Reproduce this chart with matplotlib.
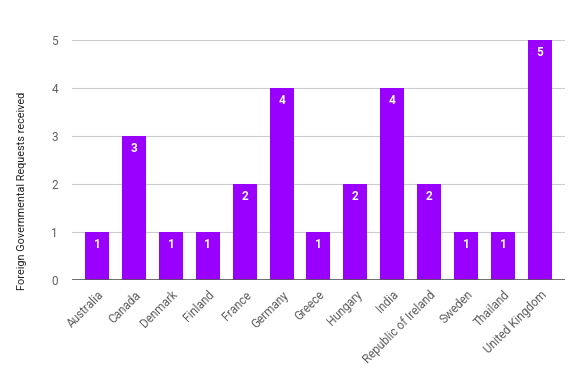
import matplotlib

matplotlib.use("Agg")
import matplotlib.pyplot as plt

# Data
COUNTRIES = [
    "Australia", "Canada", "Denmark", "Finland", "France", "Germany",
    "Greece", "Hungary", "India", "Republic of Ireland", "Sweden",
    "Thailand", "United Kingdom",
]
REQUESTS = [1, 3, 1, 1, 2, 4, 1, 2, 4, 2, 1, 1, 5]
Y_TICKS = [0, 1, 2, 3, 4, 5]

BAR_COLOR = "#9900ff"
TEXT_COLOR = "#5f5f5f"

plt.rcParams["font.family"] = ["Roboto", "DejaVu Sans"]

fig = plt.figure(figsize=(5.82, 3.82), dpi=100)
ax = fig.add_axes([0.1237, 0.267, 0.847, 0.628])

x = list(range(len(COUNTRIES)))
bars = ax.bar(x, REQUESTS, width=0.65, color=BAR_COLOR, zorder=3)

for rect, val in zip(bars, REQUESTS):
    ax.annotate(
        str(val),
        xy=(rect.get_x() + rect.get_width() / 2, rect.get_height()),
        xytext=(0, -4), textcoords="offset points",
        ha="center", va="top", color="white", fontsize=8.5,
        fontweight="bold", zorder=4,
    )

ax.set_xlim(-0.68, len(COUNTRIES) - 1 + 0.68)
ax.set_ylim(0, 5)
ax.set_yticks(Y_TICKS)
ax.set_xticks(x)
ax.set_xticklabels(COUNTRIES, rotation=45, ha="right", rotation_mode="anchor")
ax.tick_params(axis="both", length=0, colors=TEXT_COLOR, labelsize=8.5)
ax.tick_params(axis="x", pad=6)
ax.tick_params(axis="y", pad=10)

ax.grid(axis="y", color="#cccccc", linewidth=0.8, zorder=0)
ax.axhline(0, color="#555555", linewidth=1.2, zorder=4)
for side in ["top", "right", "left", "bottom"]:
    ax.spines[side].set_visible(False)

fig.text(22 / 582, 0.5, "Foreign Governmental Requests received",
         rotation=90, ha="center", va="center", color="#222222",
         fontsize=7.8)

fig.savefig("out.png", dpi=100)
